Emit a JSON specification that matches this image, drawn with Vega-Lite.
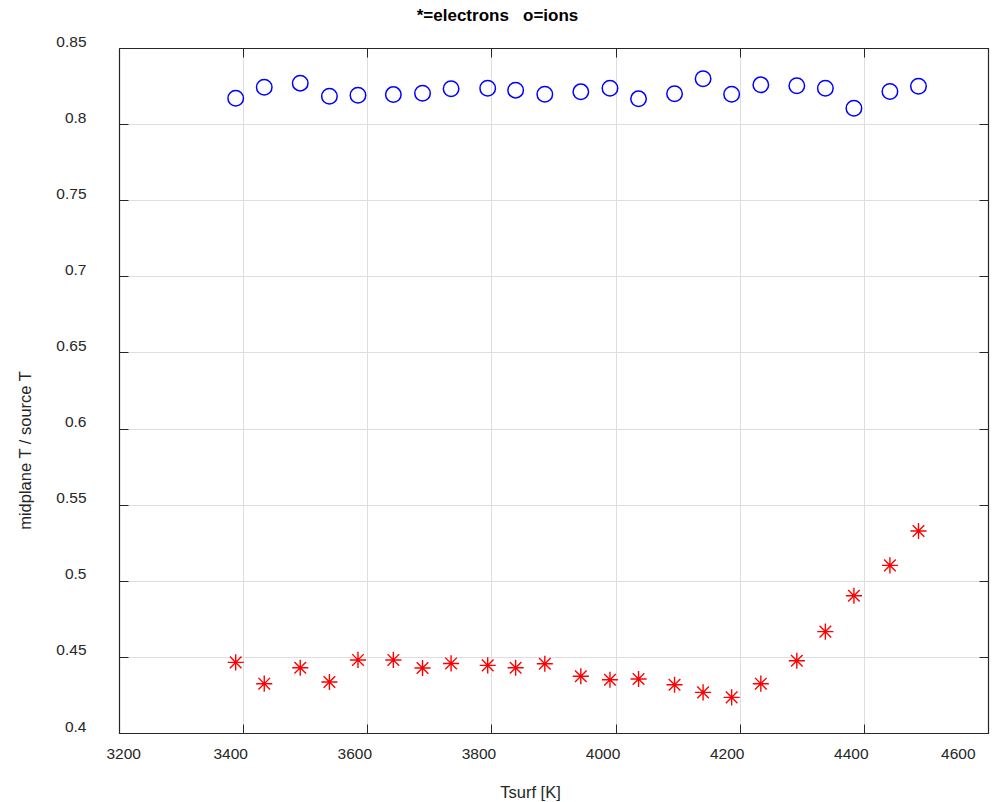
{
  "$schema": "https://vega.github.io/schema/vega-lite/v6.json",
  "width": 869,
  "height": 685,
  "autosize": "none",
  "padding": {"left": 119, "top": 48, "right": 8, "bottom": 69},
  "background": "white",
  "title": {
    "text": "*=electrons\u00a0\u00a0\u00a0o=ions",
    "anchor": "middle",
    "dx": -56,
    "offset": -4,
    "baseline": "alphabetic",
    "font": "Liberation Sans",
    "fontSize": 17,
    "fontWeight": "bold",
    "color": "#000000"
  },
  "config": {
    "view": {"stroke": null},
    "axis": {
      "domainColor": "#262626",
      "domainWidth": 1.2,
      "tickColor": "#262626",
      "tickWidth": 1,
      "tickSize": -9,
      "gridColor": "#dedede",
      "gridWidth": 1,
      "labelFont": "Liberation Sans",
      "labelFontSize": 15.5,
      "labelColor": "#262626",
      "titleFont": "Liberation Sans",
      "titleFontSize": 16.5,
      "titleFontWeight": "normal",
      "titleColor": "#262626"
    }
  },
  "datasets": {
    "ions": [
      {"Tsurf": 3388, "ratio": 0.817},
      {"Tsurf": 3434, "ratio": 0.8242},
      {"Tsurf": 3492, "ratio": 0.8269},
      {"Tsurf": 3539, "ratio": 0.8183},
      {"Tsurf": 3585, "ratio": 0.819},
      {"Tsurf": 3642, "ratio": 0.8194},
      {"Tsurf": 3689, "ratio": 0.8203},
      {"Tsurf": 3735, "ratio": 0.8232},
      {"Tsurf": 3794, "ratio": 0.8236},
      {"Tsurf": 3839, "ratio": 0.8223},
      {"Tsurf": 3886, "ratio": 0.8196},
      {"Tsurf": 3944, "ratio": 0.8212},
      {"Tsurf": 3991, "ratio": 0.8236},
      {"Tsurf": 4037, "ratio": 0.8166},
      {"Tsurf": 4095, "ratio": 0.8199},
      {"Tsurf": 4141, "ratio": 0.8298},
      {"Tsurf": 4187, "ratio": 0.8196},
      {"Tsurf": 4234, "ratio": 0.8258},
      {"Tsurf": 4292, "ratio": 0.8252},
      {"Tsurf": 4338, "ratio": 0.8236},
      {"Tsurf": 4384, "ratio": 0.8104},
      {"Tsurf": 4442, "ratio": 0.8214},
      {"Tsurf": 4488, "ratio": 0.8249}
    ],
    "electrons": [
      {"Tsurf": 3388, "ratio": 0.4464},
      {"Tsurf": 3434, "ratio": 0.4324},
      {"Tsurf": 3492, "ratio": 0.4429},
      {"Tsurf": 3539, "ratio": 0.4335},
      {"Tsurf": 3585, "ratio": 0.448},
      {"Tsurf": 3642, "ratio": 0.448},
      {"Tsurf": 3689, "ratio": 0.4427},
      {"Tsurf": 3735, "ratio": 0.4457},
      {"Tsurf": 3794, "ratio": 0.4444},
      {"Tsurf": 3839, "ratio": 0.4429},
      {"Tsurf": 3886, "ratio": 0.4455},
      {"Tsurf": 3944, "ratio": 0.4373},
      {"Tsurf": 3991, "ratio": 0.435},
      {"Tsurf": 4037, "ratio": 0.4355},
      {"Tsurf": 4095, "ratio": 0.4317},
      {"Tsurf": 4141, "ratio": 0.4267},
      {"Tsurf": 4187, "ratio": 0.4234},
      {"Tsurf": 4234, "ratio": 0.4324},
      {"Tsurf": 4292, "ratio": 0.4475},
      {"Tsurf": 4338, "ratio": 0.4666},
      {"Tsurf": 4384, "ratio": 0.4902},
      {"Tsurf": 4442, "ratio": 0.5101},
      {"Tsurf": 4488, "ratio": 0.5327}
    ]
  },
  "layer": [
    {
      "data": {"name": "ions"},
      "mark": {"type": "point", "shape": "circle", "filled": false, "stroke": "#0000ff", "strokeWidth": 1.5, "size": 240, "opacity": 1},
      "encoding": {
        "x": {
          "field": "Tsurf", "type": "quantitative",
          "scale": {"domain": [3200, 4600], "nice": false, "zero": false},
          "axis": {
            "orient": "bottom",
            "title": "Tsurf [K]",
            "values": [3200, 3400, 3600, 3800, 4000, 4200, 4400, 4600],
            "format": "d",
            "grid": true,
            "labelPadding": 22,
            "labelOffset": -13,
            "titleX": 411,
            "titleY": 64,
            "titleBaseline": "alphabetic",
            "titleAnchor": null
          }
        },
        "y": {
          "field": "ratio", "type": "quantitative",
          "scale": {"domain": [0.4, 0.85], "nice": false, "zero": false},
          "axis": {
            "orient": "left",
            "title": "midplane T / source T",
            "values": [0.4, 0.45, 0.5, 0.55, 0.6, 0.65, 0.7, 0.75, 0.8, 0.85],
            "format": ".2~f",
            "grid": true,
            "labelPadding": 42,
            "labelOffset": -7,
            "titleAngle": -90,
            "titleX": -94,
            "titleY": 402,
            "titleAlign": "center",
            "titleBaseline": "middle"
          }
        }
      }
    },
    {
      "data": {"name": "electrons"},
      "mark": {"type": "point", "shape": "M-1,0L1,0M0,-1L0,1M-0.72,-0.72L0.72,0.72M-0.72,0.72L0.72,-0.72", "filled": false, "stroke": "#ff0000", "strokeWidth": 1.4, "size": 260, "opacity": 1},
      "encoding": {
        "x": {
          "field": "Tsurf", "type": "quantitative",
          "axis": {
            "orient": "top",
            "title": null,
            "labels": false,
            "grid": false,
            "values": [3200, 3400, 3600, 3800, 4000, 4200, 4400, 4600]
          }
        },
        "y": {
          "field": "ratio", "type": "quantitative",
          "axis": {
            "orient": "right",
            "title": null,
            "labels": false,
            "grid": false,
            "values": [0.4, 0.45, 0.5, 0.55, 0.6, 0.65, 0.7, 0.75, 0.8, 0.85]
          }
        }
      }
    }
  ]
}
